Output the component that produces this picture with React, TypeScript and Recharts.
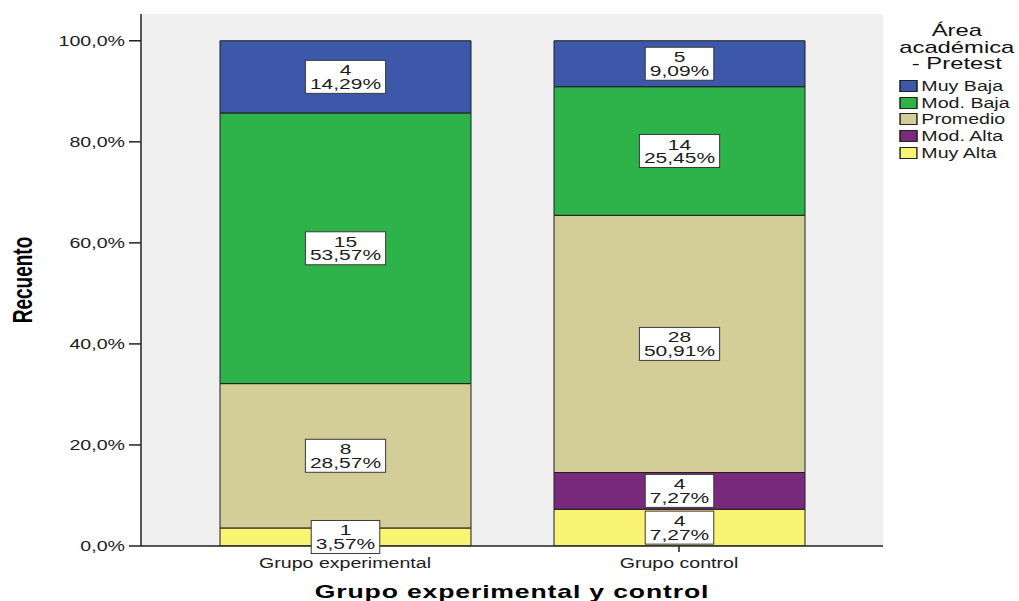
import React from 'react';
import {
  BarChart,
  Bar,
  XAxis,
  YAxis,
  CartesianGrid,
  Legend,
  LabelList,
} from 'recharts';

// grupos (eje X)
const GROUPS = ['Grupo experimental', 'Grupo control'];

// niveles de abajo hacia arriba en la pila
const LEVELS = ['Muy Alta', 'Mod. Alta', 'Promedio', 'Mod. Baja', 'Muy Baja'];
const LEVEL_KEYS = ['muyAlta', 'modAlta', 'promedio', 'modBaja', 'muyBaja'];
const LEVEL_COLORS = ['#f9f474', '#7a2a7c', '#d3cd98', '#2db34a', '#3d57a9'];

// recuentos por grupo
const MUY_ALTA = [1, 4];
const MOD_ALTA = [0, 4];
const PROMEDIO = [8, 28];
const MOD_BAJA = [15, 14];
const MUY_BAJA = [4, 5];

const COUNTS = [MUY_ALTA, MOD_ALTA, PROMEDIO, MOD_BAJA, MUY_BAJA];

const Y_TICKS = [0, 20, 40, 60, 80, 100];

const FONT = '"Liberation Sans", Arial, sans-serif';
const SX = 1.4; // ensanchado horizontal del texto
const INK = '#1c1c1c';

const fmtPct = (v: number) => v.toFixed(1).replace('.', ',') + '%';
const fmtPct2 = (v: number) => v.toFixed(2).replace('.', ',') + '%';

// porcentaje de cada nivel dentro de su grupo + recuento
const data = GROUPS.map((group, gi) => {
  const total = COUNTS.reduce((s, arr) => s + arr[gi], 0);
  const row: Record<string, string | number> = { group };
  LEVEL_KEYS.forEach((key, li) => {
    const n = COUNTS[li][gi];
    row[key] = (n / total) * 100;
    row[key + 'N'] = n;
  });
  return row;
});

// caja blanca con recuento y porcentaje
const renderBox = (props: any) => {
  const { x, y, width, height, value } = props;
  if (value == null) return null;
  const [n, pct] = String(value).split('|');
  if (n === '0') return null;
  const cx = Number(x) + Number(width) / 2;
  const cy = Number(y) + Number(height) / 2;
  const em = (s: string) =>
    s.split('').reduce((w, c) => w + (c === ',' ? 0.278 : c === '%' ? 0.889 : 0.556), 0);
  const boxW = Math.max(em(pct), em(n)) * 15 * SX + 9;
  const boxH = 33;
  return (
    <g key={`box-${cx}-${cy}`}>
      <rect
        x={cx - boxW / 2}
        y={cy - boxH / 2}
        width={boxW}
        height={boxH}
        fill="#ffffff"
        stroke="#3a3a3a"
        strokeWidth={1}
      />
      <g transform={`translate(${cx},${cy}) scale(${SX},1)`}>
        <text y={-1.5} textAnchor="middle" fontFamily={FONT} fontSize={15} fill={INK}>
          {n}
        </text>
        <text y={12} textAnchor="middle" fontFamily={FONT} fontSize={15} fill={INK}>
          {pct}
        </text>
      </g>
    </g>
  );
};

const YTick = (props: any) => {
  const { x, y, payload } = props;
  return (
    <g transform={`translate(${x},${y}) scale(${SX},1)`}>
      <text textAnchor="end" dy={5} fontFamily={FONT} fontSize={14} fill={INK}>
        {fmtPct(payload.value)}
      </text>
    </g>
  );
};

const XTick = (props: any) => {
  const { x, y, payload } = props;
  return (
    <g transform={`translate(${x},${y}) scale(${SX},1)`}>
      <text textAnchor="middle" dy={14} fontFamily={FONT} fontSize={14} fill={INK}>
        {payload.value}
      </text>
    </g>
  );
};

const XTitle = (props: any) => {
  const vb = props.viewBox || {};
  const cx = vb.x + vb.width / 2;
  return (
    <g transform={`translate(${cx},${vb.y + 52}) scale(${SX},1)`}>
      <text textAnchor="middle" fontFamily={FONT} fontWeight="bold" fontSize={19} letterSpacing={0.6} fill="#000">
        Grupo experimental y control
      </text>
    </g>
  );
};

const YTitle = (props: any) => {
  const vb = props.viewBox || {};
  const cy = vb.y + vb.height / 2;
  return (
    <g transform={`translate(${vb.x + 22},${cy}) scale(1.45,1) rotate(-90)`}>
      <text textAnchor="middle" dy={7} fontFamily={FONT} fontWeight="bold" fontSize={19} fill="#000">
        Recuento
      </text>
    </g>
  );
};

// leyenda: de arriba (Muy Baja) a abajo (Muy Alta)
const LegendBox = (props: any) => {
  const items = (props.payload || [])
    .filter((it: any) => LEVELS.includes(it.value))
    .sort((a: any, b: any) => LEVELS.indexOf(b.value) - LEVELS.indexOf(a.value));
  return (
    <div
      style={{
        transform: `scaleX(${SX})`,
        transformOrigin: '0 0',
        width: 96,
        fontFamily: FONT,
        color: INK,
      }}
    >
      <div
        style={{
          paddingTop: 23,
          paddingLeft: 8,
          textAlign: 'center',
          fontSize: 17,
          lineHeight: '16.5px',
          color: '#111',
        }}
      >
        <div>Área</div>
        <div>académica</div>
        <div>- Pretest</div>
      </div>
      <div style={{ marginTop: 5 }}>
        {items.map((it: any) => (
          <div key={it.value} style={{ display: 'flex', alignItems: 'center', height: 16.7 }}>
            <span
              style={{
                display: 'inline-block',
                marginLeft: 10.7,
                width: 11,
                height: 10,
                background: it.color,
                border: '1px solid #222',
              }}
            />
            <span style={{ marginLeft: 3, fontSize: 14, whiteSpace: 'nowrap' }}>{it.value}</span>
          </div>
        ))}
      </div>
    </div>
  );
};

export default function App() {
  return (
    <div style={{ position: 'absolute', left: 0, top: 0, width: 1019, height: 601, background: '#ffffff' }}>
      <BarChart
        width={1019}
        height={601}
        data={data}
        margin={{ top: 14, right: 136, bottom: 0, left: 0 }}
      >
        <CartesianGrid horizontal={false} vertical={false} fill="#f0f0f0" />
        <XAxis
          dataKey="group"
          height={55}
          padding={{ left: 37, right: 37 }}
          axisLine={{ stroke: '#222', strokeWidth: 1.5 }}
          tickLine={{ stroke: '#222', strokeWidth: 1.5 }}
          tickSize={6}
          tickMargin={2}
          tick={<XTick />}
          label={{ content: <XTitle /> }}
        />
        {/* eje superior: cierra el marco y lleva la pila de etiquetas */}
        <XAxis
          xAxisId="top"
          dataKey="group"
          orientation="top"
          height={0}
          padding={{ left: 37, right: 37 }}
          tick={false}
          tickLine={false}
          axisLine={{ stroke: '#333', strokeWidth: 1.5 }}
        />
        <YAxis
          width={141}
          domain={[0, 105.3]}
          ticks={Y_TICKS}
          allowDataOverflow
          axisLine={{ stroke: '#222', strokeWidth: 1.5 }}
          tickLine={{ stroke: '#222', strokeWidth: 1.5 }}
          tickSize={12}
          tickMargin={4}
          tick={<YTick />}
          label={{ content: <YTitle /> }}
        />
        <YAxis
          yAxisId="right"
          orientation="right"
          width={0}
          tick={false}
          tickLine={false}
          axisLine={{ stroke: '#333', strokeWidth: 1.5 }}
        />
        <Legend
          layout="horizontal"
          verticalAlign="middle"
          align="center"
          content={<LegendBox />}
          wrapperStyle={{ left: 884, top: 0, width: 135 }}
        />
        {LEVEL_KEYS.map((key, li) => (
          <Bar
            key={key}
            dataKey={key}
            name={LEVELS[li]}
            stackId="a"
            fill={LEVEL_COLORS[li]}
            stroke="#1e1e1e"
            strokeWidth={1}
            barSize={251}
            isAnimationActive={false}
          />
        ))}
        {/* misma pila, transparente, solo para dibujar las cajas encima */}
        {LEVEL_KEYS.map((key, li) => (
          <Bar
            key={key + '-lbl'}
            xAxisId="top"
            dataKey={key}
            name={LEVELS[li] + ' '}
            stackId="b"
            fill="none"
            stroke="none"
            legendType="none"
            barSize={251}
            isAnimationActive={false}
          >
            <LabelList
              dataKey={(d: any) => `${d[key + 'N']}|${fmtPct2(d[key])}`}
              content={renderBox}
            />
          </Bar>
        ))}
      </BarChart>
    </div>
  );
}
